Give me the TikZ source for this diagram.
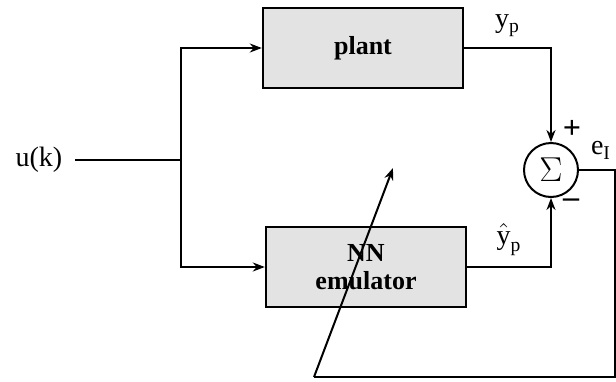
\documentclass[tikz,border=0pt]{standalone}
\usepackage{fontspec}
\setmainfont{Liberation Serif}
\usepackage{xcolor}
\colorlet{colBlock}{gray!22}
\usetikzlibrary{arrows.meta, positioning, calc}

\begin{document}
\begin{tikzpicture}[x=0.5pt, y=-0.5pt, line width=1pt, >={Stealth[length=6pt,width=4.5pt]},
		every node/.style={font=\fontsize{14}{16}\selectfont},
		block/.style={draw, line width=1.2pt, fill=colBlock, minimum width=100pt, minimum height=40pt, align=center, font=\fontsize{13}{14}\selectfont\bfseries},
		sumnode/.style={draw, circle, minimum size=27pt, inner sep=0pt, font=\fontsize{19}{19}\selectfont}]
				\useasboundingbox (0,0) rectangle (616,381);
				% blocks
				\node[block] (plant) at (363,48) {plant};
				\node[block] (emu) at (366,267) {NN\\emulator};
				\node[sumnode] (sum) at (551,170) {$\Sigma$};
				\node[anchor=west] (uk) at (8,160) {u(k)};
				% input split
				\coordinate (split) at (181,160);
				\draw (75,160) -- (split);
				\draw[->] (split) |- (plant.west);
				\draw[->] (split) |- (emu.west);
				% outputs into the summer
				\draw[->] (plant.east) -| node[pos=0.25, above=2pt] (yp) {y$_{\mathrm p}$} (sum.north);
				\draw[->] (emu.east) -| node[pos=0.25, above=2pt] (yhat) {$\hat{\textrm{y}}_{\mathrm p}$} (sum.south);
				\node[font=\bfseries\fontsize{16}{16}\selectfont] (plus) at (572,129) {+};
				\node[font=\bfseries\fontsize{16}{16}\selectfont] (minus) at (571,203) {\textendash};
				% error back to the emulator
				\coordinate (eR) at (615,170);
				\coordinate (eB) at (615,377);
				\coordinate (eL) at (314,377);
				\coordinate (tip) at (393,168);
				\node[anchor=south west, inner sep=1pt] (eI) at (588,162) {e$_{\mathrm I}$};
				\draw (sum.east) -- (eR) -- (eB) -- (eL);
				\draw[->] (eL) -- (tip);
			\end{tikzpicture}
\end{document}
